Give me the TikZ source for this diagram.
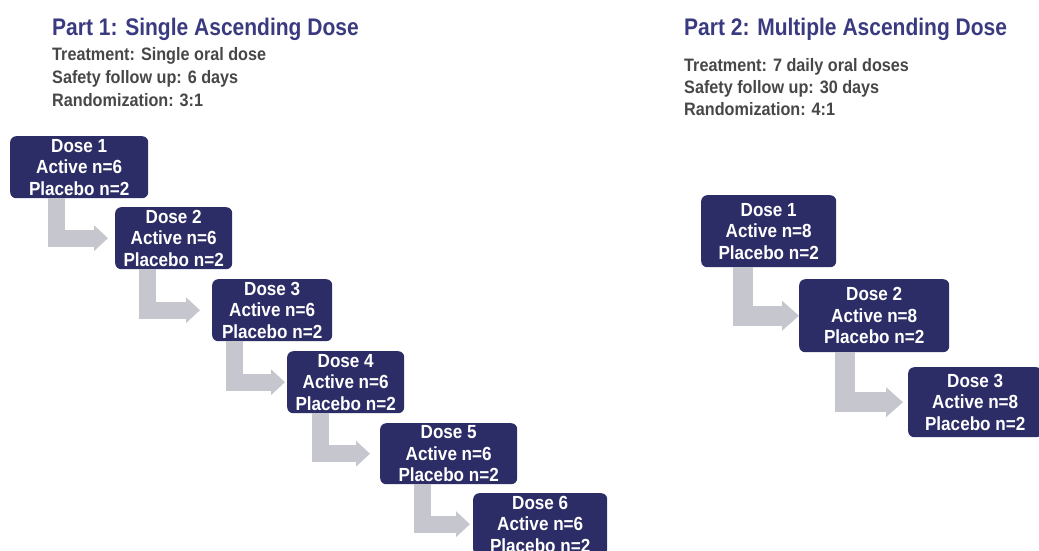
\documentclass[tikz,border=0pt]{standalone}
\usepackage{fontspec}
\setmainfont{Liberation Sans}
\newfontfamily\condT{Liberation Sans}[FakeStretch=0.875]
\newfontfamily\condS{Liberation Sans}[FakeStretch=0.90]
\newfontfamily\condB{Liberation Sans}[FakeStretch=0.90]
\usetikzlibrary{arrows.meta}
\definecolor{navy}{HTML}{2C2C66}
\definecolor{titleblue}{HTML}{3A3A80}
\definecolor{subgray}{HTML}{474747}
\definecolor{arrowgray}{HTML}{C6C6CE}
\tikzset{
  parttitle/.style={anchor=base west, inner sep=0pt, text=titleblue, font=\condT\bfseries\fontsize{24}{28}\selectfont},
  subline/.style={anchor=base west, inner sep=0pt, text=subgray, font=\condS\bfseries\fontsize{18}{21}\selectfont},
  dosebox/.style={anchor=north west, draw=none, fill=navy, rounded corners=6pt, text=white, align=center,
    inner sep=0pt, font=\condB\bfseries\fontsize{19}{21.5}\selectfont},
  flowA/.style={draw=arrowgray, line width=17pt, line join=miter, line cap=butt,
    -{Triangle[width=25pt,length=14pt]}},
  flowB/.style={draw=arrowgray, line width=20pt, line join=miter, line cap=butt,
    -{Triangle[width=29pt,length=17pt]}},
}
\begin{document}
\begin{tikzpicture}[x=1pt,y=-1pt]
\useasboundingbox (0,0) rectangle (1039,550);
\clip (0,0) rectangle (1039,550);
% Part 1 header
\node[parttitle] (t1) at (52,35) {Part 1: Single Ascending Dose};
\node[subline] (s11) at (52,60) {Treatment: Single oral dose};
\node[subline] (s12) at (52,83) {Safety follow up: 6 days};
\node[subline] (s13) at (52,106) {Randomization: 3:1};
% Part 2 header
\node[parttitle] (t2) at (684,35) {Part 2: Multiple Ascending Dose};
\node[subline] (s21) at (684,71) {Treatment: 7 daily oral doses};
\node[subline] (s22) at (684,93) {Safety follow up: 30 days};
\node[subline] (s23) at (684,115) {Randomization: 4:1};
% Part 1 boxes
\node[dosebox, minimum width=138pt, minimum height=62pt] (a1) at (10,136) {Dose 1\\Active n=6\\Placebo n=2};
\node[dosebox, minimum width=117pt, minimum height=62pt] (a2) at (115,207) {Dose 2\\Active n=6\\Placebo n=2};
\node[dosebox, minimum width=120pt, minimum height=62pt] (a3) at (212,279) {Dose 3\\Active n=6\\Placebo n=2};
\node[dosebox, minimum width=117pt, minimum height=62pt] (a4) at (287,351) {Dose 4\\Active n=6\\Placebo n=2};
\node[dosebox, minimum width=137pt, minimum height=61pt] (a5) at (380,423) {Dose 5\\Active n=6\\Placebo n=2};
\node[dosebox, minimum width=134pt, minimum height=62pt] (a6) at (473,493) {Dose 6\\Active n=6\\Placebo n=2};
% Part 1 arrows
\draw[flowA] ([xshift=46pt]a1.south west) |- ([xshift=-7pt]a2.west);
\draw[flowA] ([xshift=32pt]a2.south west) |- ([xshift=-12pt]a3.west);
\draw[flowA] ([xshift=22pt]a3.south west) |- ([xshift=-2pt]a4.west);
\draw[flowA] ([xshift=33pt]a4.south west) |- ([xshift=-10pt]a5.west);
\draw[flowA] ([xshift=42pt]a5.south west) |- ([xshift=-3pt]a6.west);
% Part 2 boxes
\node[dosebox, minimum width=135pt, minimum height=72pt] (m1) at (701,195) {Dose 1\\Active n=8\\Placebo n=2};
\node[dosebox, minimum width=150pt, minimum height=73pt] (m2) at (799,279) {Dose 2\\Active n=8\\Placebo n=2};
\node[dosebox, minimum width=134pt, minimum height=70pt] (m3) at (908,367) {Dose 3\\Active n=8\\Placebo n=2};
% Part 2 arrows
\draw[flowB] ([xshift=41.5pt]m1.south west) |- ([xshift=0pt]m2.west);
\draw[flowB] ([xshift=46pt]m2.south west) |- ([xshift=-5pt]m3.west);
\end{tikzpicture}
\end{document}
